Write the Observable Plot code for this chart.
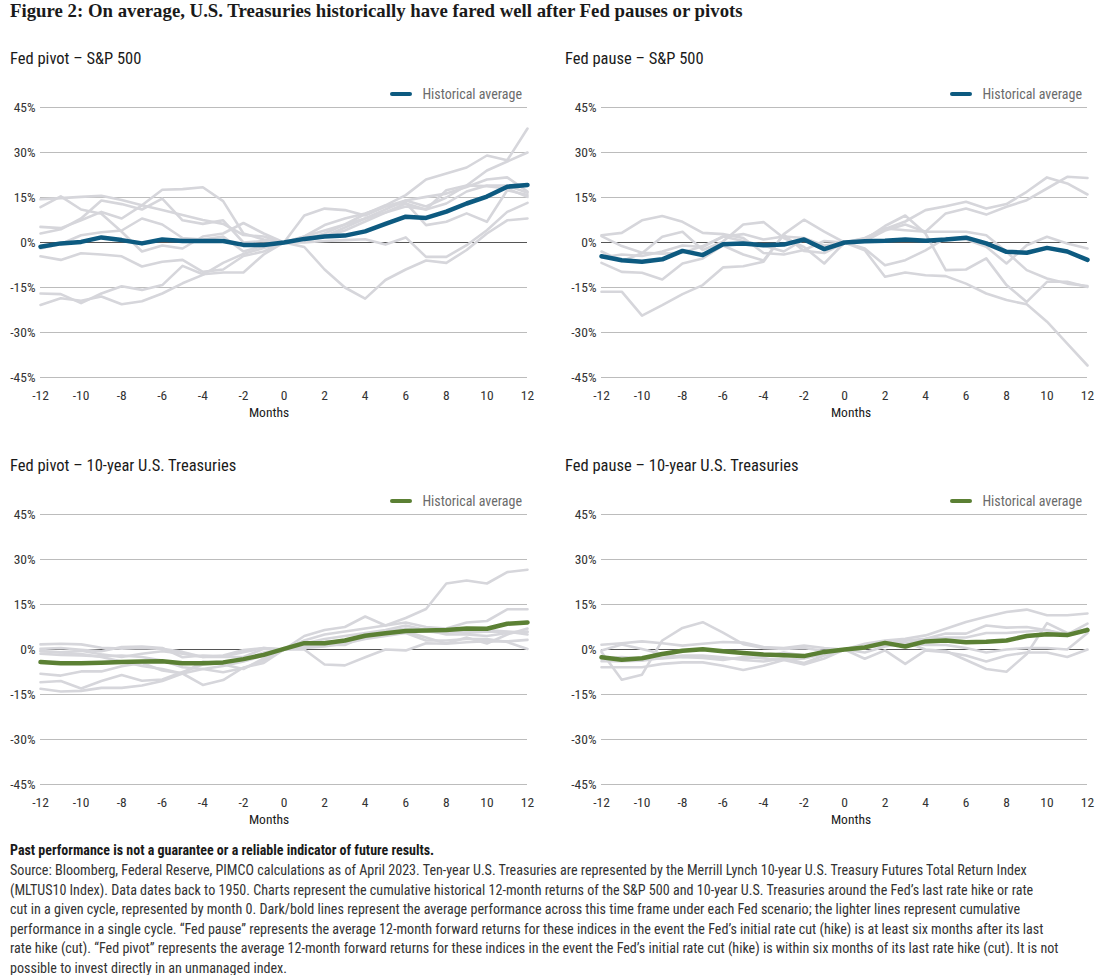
<!DOCTYPE html>
<html>
<head>
<meta charset="utf-8">
<script src="https://cdn.jsdelivr.net/npm/d3@7"></script>
<script src="https://cdn.jsdelivr.net/npm/@observablehq/plot@0.6"></script>
<style>
  html, body { margin: 0; padding: 0; background: #fff; }
  #root { position: relative; width: 1100px; height: 975px; overflow: hidden;
          font-family: "Liberation Sans Narrow", "Roboto Condensed", Roboto, sans-serif; color: #222; }
  .abs { position: absolute; white-space: nowrap; }
  .title { font-family: "Liberation Serif", serif; font-weight: bold; font-size: 18.8px; color: #1a1a1a; }
  .ptitle { font-size: 16.5px; color: #1a1a1a; }
  .legend { display: flex; align-items: center; font-size: 14px; color: #6b6b6b; }
  .legend .sw { display: inline-block; width: 22px; height: 4px; border-radius: 2px; margin-right: 10px; }
  .months { font-size: 13.5px; color: #1a1a1a; transform: translateX(-50%); }
  .panel { position: absolute; }
  .foot-bold { font-weight: bold; font-size: 14px; color: #1a1a1a; }
  .foot { font-size: 14.1px; line-height: 19.5px; color: #333; }
</style>
</head>
<body>
<div id="root"></div>
<script>
// ---------- DATA ----------
const months = [-12,-11,-10,-9,-8,-7,-6,-5,-4,-3,-2,-1,0,1,2,3,4,5,6,7,8,9,10,11,12];
const xTicks = [-12,-10,-8,-6,-4,-2,0,2,4,6,8,10,12];
const yTicks = [-45,-30,-15,0,15,30,45];

// Fed pivot – S&P 500
const pivotSpxAvg = [-1.4,-0.3,0.2,1.7,0.8,-0.3,1.0,0.5,0.5,0.5,-0.8,-0.8,0,1.2,2.0,2.3,3.7,6.2,8.6,8.2,10.3,13.0,15.3,18.6,19.2];
const pivotSpxCycles = [
  [14.4,14.8,15.2,15.6,14.2,12.4,10.8,9.2,7.5,6.2,2.5,2.0,0,2,4,6,9.5,12.4,15.8,21,23,25,29,27.4,38],
  [11.8,15.4,11.0,9.6,3.6,-3.0,-1.0,-2.0,2.0,3.0,6.5,3.0,0,1,2,5,8,11,14,12,15,19,24,27,30],
  [5.2,4.8,7.4,10.2,8.0,12.4,17.6,17.8,18.4,13.8,3.0,1.0,0,-1.5,-9,-15,-18.7,-12.5,-9,-6,-6.8,-2.5,3,7.4,8],
  [3.0,4.4,8.0,14.0,12.8,11.0,14.6,7.4,6.2,7.4,0.0,0.5,0,9,11.3,10.8,9,12,13.2,5.8,6.9,9.7,6.9,17.4,15.8],
  [-2.0,-0.5,2.4,3.4,4.0,8.0,6.0,1.5,1.0,2.0,-3.0,-1.0,0,0,0.5,0.8,1.1,-0.7,1.7,-4.8,-4.8,-0.9,4.1,10.2,13.2],
  [-4.6,-5.8,-3.6,-4.0,-4.6,-8.0,-6.4,-5.8,-9.8,-9.0,-4.5,-3.0,0,1,3,6,8,10,12,11,17.4,19,18.8,18,15.2],
  [-17.0,-17.2,-20.2,-17.0,-14.6,-15.8,-14.2,-7.8,-10.6,-10.0,-10.0,-4.0,0,2,5.8,8,9.7,12,14,15.2,16.3,18.5,21,21.7,17],
  [-20.8,-18.6,-19.4,-18.0,-20.6,-19.6,-17.0,-13.6,-10.8,-6.8,-3.8,-1.8,0,0.5,2,4,7,10,13,11,13,17,19,19,16.6]
];

// Fed pause – S&P 500
const pauseSpxAvg = [-4.6,-5.9,-6.4,-5.6,-2.8,-4.2,-0.6,-0.3,-0.9,-0.7,1.0,-2.2,0,0.4,0.6,1.0,0.6,1.0,1.6,-0.3,-3.1,-3.4,-1.8,-3.0,-5.8];
const pauseSpxCycles = [
  [2.4,3.2,7.4,8.8,6.9,3.2,2.8,1.5,-3.5,-4.0,-2.5,0.5,0,1.5,4.5,7,10.8,12.1,13.6,11.3,12.8,16.9,21.7,19.7,16.0],
  [2.1,-1.2,-3.4,-3.7,-3.4,-1.2,1.9,2.8,1.0,2.0,1.5,-1.0,0,0.5,4,6,3.6,9.7,11.3,9.3,11.9,14.1,18,21.9,21.5],
  [-3.0,-6.2,-3.6,1.9,3.6,-2.5,0.3,6.0,6.8,1.5,-1.5,-7.0,0,1.3,4.7,4.1,3.6,3.6,3.6,2.4,-3.1,-9.2,-12,-13.7,-14.5],
  [-6.8,-9.8,-10.1,-12.3,-7.0,-5.3,-1.0,-4.0,-6.0,2.6,-2.8,-3.5,0,-2.6,-11.4,-10,-10.9,-11.2,-13.7,-17,-19.2,-20.6,-26.4,-33.7,-41],
  [-16.4,-16.4,-24.4,-20.9,-17.2,-14.2,-8.3,-7.9,-6.4,2.8,7.6,3.6,0,1.0,5.5,9.0,3.0,-9.2,-9.0,-5.3,-14.2,-19.8,-13.1,-13.1,-14.8],
  [-5.0,-4.0,-4.5,-3.0,-1.0,-1.5,2.0,0.5,-1.0,-3.0,1.0,-2.0,0,-2.0,-7.6,-5.9,-2.6,1.5,1.0,-1.4,-7.0,-0.9,1.9,-0.3,-2.0]
];

// Fed pivot – 10-year U.S. Treasuries
const pivotTsyAvg = [-4.2,-4.6,-4.6,-4.4,-4.2,-4.0,-3.9,-4.6,-4.6,-4.3,-3.2,-1.8,0.2,2.1,2.1,3.0,4.6,5.4,6.2,6.3,6.5,7.0,6.9,8.6,9.0];
const pivotTsyCycles = [
  [1.7,1.9,1.7,0.6,0.3,0.5,0.2,-0.8,-2.5,-2.0,-0.2,0.5,0,4.5,6.5,7.5,11.0,8.0,10.5,13.5,22.0,23.0,22.0,25.8,26.6],
  [0.2,0.5,-0.1,-0.6,0.8,1.0,0.5,-2.6,-2.0,-2.3,-0.9,0.5,0,3.0,5.0,6.0,7.0,8.0,9.0,7.5,7.0,9.0,9.5,13.4,13.4],
  [-0.6,-0.9,-0.4,-1.6,-2.5,-1.4,-0.6,-1.4,-2.5,-2.5,-2.5,0.2,0,0,-5.0,-5.3,-2.6,0.0,-0.3,2.1,1.9,2.4,2.8,2.7,3.2],
  [-1.4,-1.8,-2.0,-2.3,-2.0,-2.5,-3.7,-5.9,-6.5,-7.6,-6.2,-3.7,0,2.0,2.5,3.0,4.0,5.0,6.0,4.0,2.0,4.0,2.0,5.0,7.0],
  [-0.5,-1.0,-1.5,-2.5,-4.0,-5.5,-6.5,-8.0,-11.8,-10.2,-6.0,-4.5,0,1.0,1.5,1.5,4.5,5.5,6.0,6.5,6.2,5.5,6.0,5.8,6.0],
  [-8.1,-8.7,-7.3,-7.3,-5.6,-4.5,-7.0,-8.0,-6.5,-5.5,-4.0,-2.0,0,0.5,1.0,2.0,3.5,4.5,5.5,3.0,3.0,3.5,3.5,2.5,0.2],
  [-10.9,-10.5,-13.0,-10.5,-8.5,-10.4,-10.0,-7.5,-5.0,-4.5,-3.5,-1.0,0,2.0,3.5,4.5,5.5,6.5,8.0,6.5,5.0,5.0,4.5,5.5,5.8],
  [-13.1,-14.0,-13.8,-12.8,-12.8,-12.0,-10.5,-8.0,-4.0,-5.0,-6.5,-3.0,0,1.5,2.5,3.0,5.0,6.0,7.0,6.0,5.5,6.0,6.5,6.0,5.0]
];

// Fed pause – 10-year U.S. Treasuries
const pauseTsyAvg = [-2.6,-3.4,-2.9,-1.5,-0.4,0.1,-0.6,-1.2,-1.7,-1.9,-2.2,-0.8,0,0.7,2.2,1.0,2.7,3.0,2.4,2.6,3.0,4.5,5.1,4.8,6.5];
const pauseTsyCycles = [
  [-0.8,-10.1,-8.4,3.0,7.2,9.1,5.6,1.8,0.5,0.2,0.5,-0.5,0,1.9,3.0,3.6,4.7,6.9,9.2,10.9,12.5,13.3,11.4,11.4,12.0],
  [1.6,2.1,2.7,2.1,1.3,1.9,2.5,2.3,0.8,0.5,1.3,0.5,0,0.5,2.0,2.5,0.0,-0.5,-3.5,-6.5,-7.4,-1.5,8.8,5.5,6.0],
  [-0.3,1.7,0.2,-1.5,-2.5,-2.5,-3.0,-3.0,-2.5,-1.0,-2.0,-1.0,0,-3.1,-0.3,-4.8,-0.3,-0.9,-2.0,-4.0,-2.0,-1.0,-1.0,-2.5,0.0],
  [-3.9,-3.9,-3.7,-2.8,-2.0,-2.0,-2.6,-3.5,-4.0,-3.0,-4.5,-2.0,0,1.0,2.5,3.0,3.6,5.3,5.3,8.0,7.3,7.5,6.4,5.0,8.6],
  [-5.9,-5.9,-5.9,-4.8,-4.3,-4.3,-5.4,-6.8,-5.4,-3.5,-3.0,-1.5,0,0.5,1.5,2.0,3.5,4.0,4.0,5.5,5.5,6.0,6.5,4.5,7.0],
  [-3.0,-2.5,-3.0,-3.0,-2.5,-2.8,-3.5,-2.5,-3.0,-3.5,-5.0,-3.0,0,-1.0,1.0,2.0,1.5,1.5,0.5,-1.0,0.0,0.5,0.5,0.0,5.5]
];

const titleText = "Figure 2: On average, U.S. Treasuries historically have fared well after Fed pauses or pivots";
const panelTitles = ["Fed pivot – S&P 500", "Fed pause – S&P 500", "Fed pivot – 10-year U.S. Treasuries", "Fed pause – 10-year U.S. Treasuries"];
const legendLabel = "Historical average";
const xLabel = "Months";
const footBold = "Past performance is not a guarantee or a reliable indicator of future results.";
const footLines = [
  "Source: Bloomberg, Federal Reserve, PIMCO calculations as of April 2023. Ten-year U.S. Treasuries are represented by the Merrill Lynch 10-year U.S. Treasury Futures Total Return Index",
  "(MLTUS10 Index). Data dates back to 1950. Charts represent the cumulative historical 12-month returns of the S&P 500 and 10-year U.S. Treasuries around the Fed’s last rate hike or rate",
  "cut in a given cycle, represented by month 0. Dark/bold lines represent the average performance across this time frame under each Fed scenario; the lighter lines represent cumulative",
  "performance in a single cycle. “Fed pause” represents the average 12-month forward returns for these indices in the event the Fed’s initial rate cut (hike) is at least six months after its last",
  "rate hike (cut). “Fed pivot” represents the average 12-month forward returns for these indices in the event the Fed’s initial rate cut (hike) is within six months of its last rate hike (cut). It is not",
  "possible to invest directly in an unmanaged index."
];

const BLUE = "#0d5a80";
const GREEN = "#5b8034";
const FONT = '"Liberation Sans Narrow", "Roboto Condensed", Roboto, sans-serif';

// ---------- LAYOUT ----------
const root = document.getElementById("root");
function addDiv(cls, text, styles) {
  const d = document.createElement("div");
  d.className = "abs " + cls;
  d.textContent = text;
  Object.assign(d.style, styles);
  root.appendChild(d);
  return d;
}

addDiv("title", titleText, {left: "10px", top: "0px"});

function panel(cycles, avg, color, marginLeft, marginRight) {
  const grayData = cycles.flatMap((vals, i) => vals.map((v, j) => ({month: months[j], value: v, cycle: i})));
  const avgData = avg.map((v, j) => ({month: months[j], value: v}));
  return Plot.plot({
    width: 550,
    height: 312,
    marginTop: 12,
    marginBottom: 30,
    marginLeft,
    marginRight,
    style: {fontFamily: FONT, fontSize: "13.5px", color: "#333", background: "transparent", overflow: "visible"},
    x: {domain: [-12, 12], ticks: xTicks, tickFormat: d => String(d), tickSize: 0, tickPadding: 13, label: null},
    y: {domain: [-45, 45], ticks: yTicks, tickFormat: d => `${d}%`, tickSize: 0, tickPadding: 5, label: null},
    marks: [
      Plot.ruleY(yTicks.filter(d => d !== 0), {stroke: "#bcbcbc", strokeWidth: 1.2}),
      Plot.ruleY([0], {stroke: "#555", strokeWidth: 1}),
      Plot.line(grayData, {x: "month", y: "value", z: "cycle", stroke: "#d6d6db", strokeWidth: 2.6}),
      Plot.line(avgData, {x: "month", y: "value", stroke: color, strokeWidth: 4.5})
    ]
  });
}

const panels = [
  {cycles: pivotSpxCycles, avg: pivotSpxAvg, color: BLUE, left: 0, top: 95, ml: 40, mr: 23},
  {cycles: pauseSpxCycles, avg: pauseSpxAvg, color: BLUE, left: 550, top: 95, ml: 51, mr: 13},
  {cycles: pivotTsyCycles, avg: pivotTsyAvg, color: GREEN, left: 0, top: 502, ml: 40, mr: 23},
  {cycles: pauseTsyCycles, avg: pauseTsyAvg, color: GREEN, left: 550, top: 502, ml: 51, mr: 13}
];

panels.forEach((p, i) => {
  const wrap = document.createElement("div");
  wrap.className = "panel";
  wrap.style.left = p.left + "px";
  wrap.style.top = p.top + "px";
  wrap.appendChild(panel(p.cycles, p.avg, p.color, p.ml, p.mr));
  root.appendChild(wrap);

  const rowTop = i < 2 ? 0 : 407;
  addDiv("ptitle", panelTitles[i], {left: (p.left + (i % 2 === 0 ? 10 : 15)) + "px", top: (49 + rowTop) + "px"});

  const lg = document.createElement("div");
  lg.className = "abs legend";
  lg.style.right = (i % 2 === 0 ? 1100 - 522 : 1100 - 1082) + "px";
  lg.style.top = (86 + rowTop) + "px";
  const sw = document.createElement("span");
  sw.className = "sw";
  sw.style.background = p.color;
  const tx = document.createElement("span");
  tx.textContent = legendLabel;
  lg.appendChild(sw); lg.appendChild(tx);
  root.appendChild(lg);

  addDiv("months", xLabel, {left: (i % 2 === 0 ? 269 : 851) + "px", top: (404 + rowTop) + "px"});
});

addDiv("foot-bold", footBold, {left: "10px", top: "842px"});
const foot = addDiv("foot", "", {left: "10px", top: "861px"});
foot.innerHTML = footLines.map(s => s.replace(/&/g, "&amp;")).join("<br>");
</script>
</body>
</html>
